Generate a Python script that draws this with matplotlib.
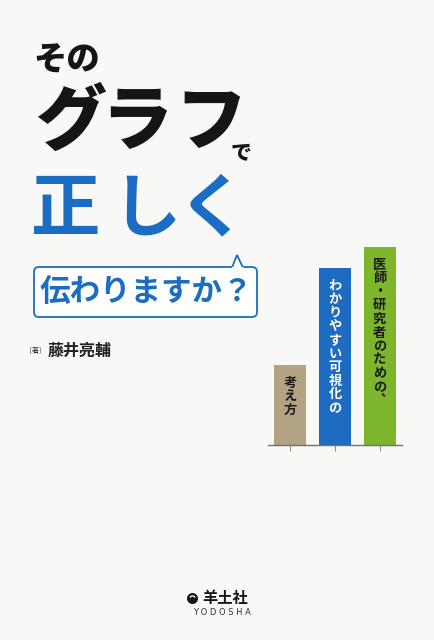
import matplotlib
matplotlib.use("Agg")
import matplotlib.pyplot as plt
from matplotlib.patches import FancyBboxPatch, Polygon, Circle, Wedge

plt.rcParams['font.family'] = ['Noto Sans CJK JP', 'DejaVu Sans']

# ---- data ----
categories = ["考え方", "わかりやすい可視化の", "医師・研究者のための︑"]
values = [80, 177, 198]
bar_colors = ["#b2a383", "#1d6cc1", "#7db52d"]
text_colors = ["#1a1a1a", "#ffffff", "#1a1a1a"]

title_small = "その"
title_big = "グラフ"
title_de = "で"
title_blue = "正しく"
bubble_text = "伝わりますか？"
author_role = "〔著〕"
author = "藤井亮輔"
publisher = "羊土社"
publisher_en = "YODOSHA"

BLUE = "#1a6dc2"
BG = "#f8f8f6"

W, H = 435, 640
fig = plt.figure(figsize=(W / 100, H / 100), dpi=100)
fig.patch.set_facecolor(BG)

bg = fig.add_axes([0, 0, 1, 1])
bg.set_xlim(0, W)
bg.set_ylim(H, 0)
bg.axis("off")
bg.set_facecolor(BG)

# title
bg.text(67, 60, title_small, fontsize=24, fontweight="black", ha="center", va="center", color="#151515")
for ch, cx in zip(title_big, [70, 137, 211]):
    bg.text(cx, 123, ch, fontsize=51, fontweight="black", ha="center", va="center", color="#151515")
bg.text(241, 153, title_de, fontsize=15, fontweight="black", ha="center", va="center", color="#151515")
for ch, cx in zip(title_blue, [66, 146, 212]):
    bg.text(cx, 210, ch, fontsize=50, fontweight="bold", ha="center", va="center", color=BLUE)

# speech bubble
box = FancyBboxPatch((34, 267), 223, 50, boxstyle="round,pad=0,rounding_size=5",
                     facecolor="white", edgecolor=BLUE, linewidth=1.3, zorder=2)
bg.add_patch(box)
tail = Polygon([(232, 267.6), (237, 255), (243, 267.6)], closed=False, facecolor="white",
               edgecolor=BLUE, linewidth=1.3, zorder=3)
bg.add_patch(tail)
bg.plot([232.6, 242.4], [267.6, 267.6], color="white", linewidth=1.6, zorder=4)
bg.text(146, 292, bubble_text, fontsize=22, fontweight="bold", ha="center", va="center", color=BLUE, zorder=5)

# author
bg.text(36, 351, author_role, fontsize=5, ha="center", va="center", color="#333333")
bg.text(80, 351, author, fontsize=11.5, fontweight="bold", ha="center", va="center", color="#222222")

# publisher logo
bg.add_patch(Circle((192.5, 598.5), 5.5, facecolor="#151515", edgecolor="none"))
bg.add_patch(Wedge((192.5, 598.5), 3.2, 200, 340, width=1.3, facecolor="white", edgecolor="none"))
bg.text(225, 598.5, publisher, fontsize=11, fontweight="bold", ha="center", va="center", color="#151515")
bg.text(222, 612.5, " ".join(publisher_en), fontsize=6, ha="center",
        va="center", color="#333333", fontfamily="DejaVu Sans")

# ---- bar chart ----
left, right, base, top = 268, 402, 445, 240
ax = fig.add_axes([left / W, (H - base) / H, (right - left) / W, (base - top) / H])
ax.set_facecolor("none")
xs = list(range(len(values)))
ax.bar(xs, values, width=0.72, color=bar_colors, zorder=2)
ax.set_xlim(-0.5, 2.5)
ax.set_ylim(0, base - top)
for s in ["top", "left", "right"]:
    ax.spines[s].set_visible(False)
ax.spines["bottom"].set_color("#707070")
ax.spines["bottom"].set_linewidth(1.0)
ax.set_yticks([])
ax.set_xticks(xs)
ax.set_xticklabels([])
ax.tick_params(axis="x", length=4.5, width=0.7, color="#888888", direction="out")

step = 13.6
for i, (lab, v, tc) in enumerate(zip(categories, values, text_colors)):
    for j, ch in enumerate(lab):
        ax.text(i, v - 10.5 - j * step, ch, fontsize=9.5, fontweight="bold", ha="center", va="top",
                color=tc, zorder=3)

fig.savefig("out.png", dpi=100, facecolor=BG)
